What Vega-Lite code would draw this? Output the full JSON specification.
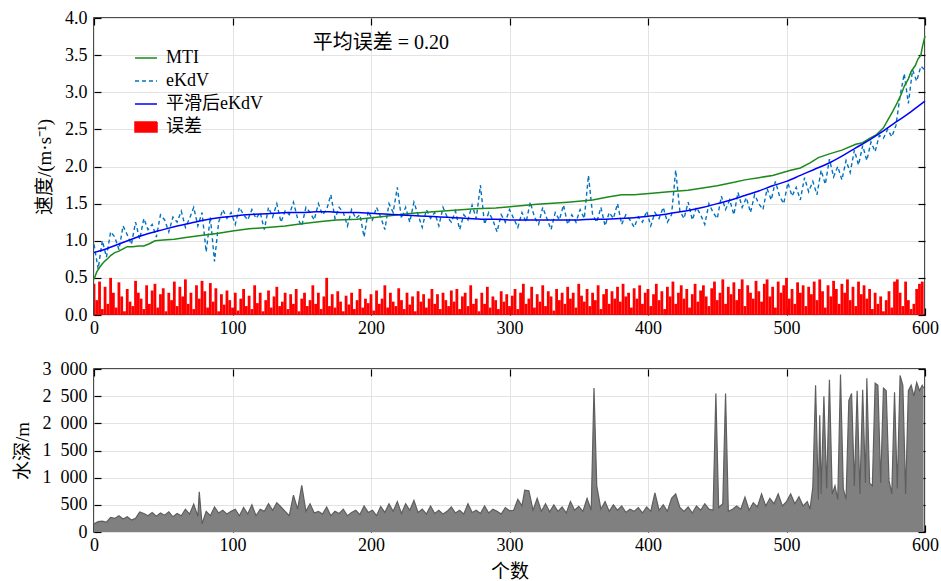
{
  "$schema": "https://vega.github.io/schema/vega-lite/v6.json",
  "background": "white",
  "padding": {"left": 12, "top": 8, "right": 2, "bottom": 2},
  "spacing": 54,
  "bounds": "flush",
  "config": {
    "font": "Liberation Serif, Noto Sans CJK SC",
    "view": {"stroke": "#111111", "strokeWidth": 1.5},
    "style": {
      "guide-label": {"font": "Liberation Serif, Noto Sans CJK SC", "fontSize": 18, "fill": "#000000"},
      "guide-title": {"font": "Liberation Serif, Noto Sans CJK SC", "fontSize": 19, "fill": "#000000"}
    },
    "axis": {
      "labelFont": "Liberation Serif, Noto Sans CJK SC",
      "titleFont": "Liberation Serif, Noto Sans CJK SC",
      "labelFontSize": 18,
      "titleFontSize": 19,
      "titleFontWeight": "normal",
      "labelColor": "#000000",
      "titleColor": "#000000",
      "tickColor": "#000000",
      "tickWidth": 1.2,
      "gridColor": "#e3e3e3",
      "gridWidth": 1,
      "domain": false,
      "labelFlush": false,
      "labelOverlap": false
    },
    "legend": {
      "labelFont": "Liberation Serif, Noto Sans CJK SC",
      "labelFontSize": 18,
      "labelColor": "#000000"
    },
    "text": {"font": "Liberation Serif, Noto Sans CJK SC"}
  },
  "datasets": {
    "mti": [
      {"x":0,"v":0.48},{"x":2,"v":0.58},{"x":4,"v":0.64},{"x":6,"v":0.69},{"x":8,"v":0.73},{"x":10,"v":0.76},{"x":12,"v":0.8},{"x":15,"v":0.84},{"x":18,"v":0.86},{"x":21,"v":0.89},{"x":24,"v":0.92},{"x":28,"v":0.92},{"x":32,"v":0.93},{"x":36,"v":0.93},{"x":40,"v":0.96},{"x":44,"v":1.0},{"x":50,"v":1.01},{"x":58,"v":1.02},{"x":65,"v":1.04},{"x":77,"v":1.07},{"x":90,"v":1.1},{"x":100,"v":1.13},{"x":112,"v":1.16},{"x":125,"v":1.18},{"x":138,"v":1.2},{"x":150,"v":1.23},{"x":164,"v":1.26},{"x":175,"v":1.28},{"x":190,"v":1.29},{"x":201,"v":1.31},{"x":215,"v":1.34},{"x":230,"v":1.37},{"x":245,"v":1.39},{"x":260,"v":1.41},{"x":275,"v":1.43},{"x":290,"v":1.44},{"x":302,"v":1.46},{"x":320,"v":1.49},{"x":342,"v":1.52},{"x":360,"v":1.55},{"x":371,"v":1.59},{"x":381,"v":1.62},{"x":390,"v":1.62},{"x":403,"v":1.64},{"x":415,"v":1.66},{"x":429,"v":1.68},{"x":436,"v":1.7},{"x":450,"v":1.74},{"x":463,"v":1.79},{"x":470,"v":1.82},{"x":480,"v":1.85},{"x":490,"v":1.88},{"x":503,"v":1.95},{"x":510,"v":1.98},{"x":517,"v":2.05},{"x":523,"v":2.12},{"x":531,"v":2.17},{"x":540,"v":2.22},{"x":550,"v":2.3},{"x":555,"v":2.32},{"x":560,"v":2.38},{"x":565,"v":2.43},{"x":570,"v":2.52},{"x":573,"v":2.62},{"x":576,"v":2.72},{"x":580,"v":2.86},{"x":583,"v":2.98},{"x":585,"v":3.08},{"x":588,"v":3.18},{"x":590,"v":3.28},{"x":593,"v":3.36},{"x":595,"v":3.45},{"x":597,"v":3.5},{"x":598,"v":3.6},{"x":600,"v":3.76}
    ],
    "smooth": [
      {"x":0,"v":0.84},{"x":10,"v":0.9},{"x":20,"v":0.97},{"x":30,"v":1.04},{"x":40,"v":1.1},{"x":50,"v":1.15},{"x":60,"v":1.2},{"x":70,"v":1.24},{"x":80,"v":1.28},{"x":90,"v":1.31},{"x":100,"v":1.33},{"x":110,"v":1.35},{"x":120,"v":1.36},{"x":130,"v":1.37},{"x":140,"v":1.38},{"x":150,"v":1.38},{"x":160,"v":1.39},{"x":170,"v":1.39},{"x":180,"v":1.38},{"x":190,"v":1.38},{"x":200,"v":1.37},{"x":210,"v":1.36},{"x":220,"v":1.35},{"x":230,"v":1.34},{"x":240,"v":1.33},{"x":250,"v":1.32},{"x":260,"v":1.31},{"x":270,"v":1.3},{"x":280,"v":1.29},{"x":290,"v":1.29},{"x":300,"v":1.28},{"x":310,"v":1.28},{"x":320,"v":1.28},{"x":330,"v":1.28},{"x":340,"v":1.28},{"x":350,"v":1.28},{"x":360,"v":1.29},{"x":370,"v":1.29},{"x":380,"v":1.3},{"x":390,"v":1.31},{"x":400,"v":1.33},{"x":410,"v":1.35},{"x":420,"v":1.38},{"x":430,"v":1.41},{"x":440,"v":1.45},{"x":450,"v":1.5},{"x":460,"v":1.55},{"x":470,"v":1.61},{"x":480,"v":1.67},{"x":490,"v":1.74},{"x":500,"v":1.8},{"x":510,"v":1.88},{"x":520,"v":1.96},{"x":530,"v":2.04},{"x":540,"v":2.14},{"x":550,"v":2.25},{"x":560,"v":2.36},{"x":570,"v":2.48},{"x":580,"v":2.61},{"x":590,"v":2.74},{"x":600,"v":2.88}
    ],
    "ekdv": [
      {"x":0,"v":0.95},{"x":3,"v":0.62},{"x":6,"v":1.0},{"x":9,"v":0.78},{"x":12,"v":1.12},{"x":15,"v":1.05},{"x":18,"v":0.88},{"x":21,"v":1.2},{"x":24,"v":1.08},{"x":27,"v":0.95},
      {"x":30,"v":1.25},{"x":33,"v":1.02},{"x":36,"v":1.3},{"x":39,"v":1.15},{"x":42,"v":1.22},{"x":45,"v":1.05},{"x":48,"v":1.35},{"x":51,"v":1.28},{"x":54,"v":1.12},{"x":57,"v":1.32},
      {"x":60,"v":1.25},{"x":63,"v":1.4},{"x":66,"v":1.18},{"x":69,"v":1.3},{"x":72,"v":1.45},{"x":75,"v":1.2},{"x":78,"v":1.38},{"x":81,"v":0.85},{"x":84,"v":1.32},{"x":87,"v":0.72},
      {"x":90,"v":1.25},{"x":93,"v":1.42},{"x":96,"v":1.3},{"x":99,"v":1.38},{"x":102,"v":1.22},{"x":105,"v":1.45},{"x":108,"v":1.35},{"x":111,"v":1.28},{"x":114,"v":1.42},{"x":117,"v":1.3},
      {"x":120,"v":1.38},{"x":123,"v":1.15},{"x":126,"v":1.45},{"x":129,"v":1.32},{"x":132,"v":1.5},{"x":135,"v":1.25},{"x":138,"v":1.4},{"x":141,"v":1.35},{"x":144,"v":1.52},{"x":147,"v":1.3},
      {"x":150,"v":1.2},{"x":153,"v":1.45},{"x":156,"v":1.38},{"x":159,"v":1.28},{"x":162,"v":1.5},{"x":165,"v":1.35},{"x":168,"v":1.42},{"x":171,"v":1.62},{"x":174,"v":1.3},{"x":177,"v":1.45},
      {"x":180,"v":1.38},{"x":183,"v":1.2},{"x":186,"v":1.42},{"x":189,"v":1.3},{"x":192,"v":1.35},{"x":195,"v":1.05},{"x":198,"v":1.4},{"x":201,"v":1.28},{"x":204,"v":1.45},{"x":207,"v":1.32},
      {"x":210,"v":1.15},{"x":213,"v":1.5},{"x":216,"v":1.38},{"x":219,"v":1.72},{"x":222,"v":1.3},{"x":225,"v":1.45},{"x":228,"v":1.25},{"x":231,"v":1.52},{"x":234,"v":1.35},{"x":237,"v":1.18},
      {"x":240,"v":1.42},{"x":243,"v":1.3},{"x":246,"v":1.38},{"x":249,"v":1.2},{"x":252,"v":1.45},{"x":255,"v":1.32},{"x":258,"v":1.25},{"x":261,"v":1.4},{"x":264,"v":1.15},{"x":267,"v":1.35},
      {"x":270,"v":1.28},{"x":273,"v":1.48},{"x":276,"v":1.3},{"x":279,"v":1.75},{"x":282,"v":1.22},{"x":285,"v":1.38},{"x":288,"v":1.28},{"x":291,"v":1.12},{"x":294,"v":1.35},{"x":297,"v":1.25},
      {"x":300,"v":1.42},{"x":303,"v":1.3},{"x":306,"v":1.18},{"x":309,"v":1.38},{"x":312,"v":1.25},{"x":315,"v":1.52},{"x":318,"v":1.32},{"x":321,"v":1.22},{"x":324,"v":1.45},{"x":327,"v":1.3},
      {"x":330,"v":1.15},{"x":333,"v":1.38},{"x":336,"v":1.28},{"x":339,"v":1.48},{"x":342,"v":1.22},{"x":345,"v":1.35},{"x":348,"v":1.25},{"x":351,"v":1.42},{"x":354,"v":1.3},{"x":357,"v":1.88},
      {"x":360,"v":1.35},{"x":363,"v":1.25},{"x":366,"v":1.45},{"x":369,"v":1.2},{"x":372,"v":1.38},{"x":375,"v":1.3},{"x":378,"v":1.5},{"x":381,"v":1.22},{"x":384,"v":1.35},{"x":387,"v":1.28},
      {"x":390,"v":1.18},{"x":393,"v":1.32},{"x":396,"v":1.25},{"x":399,"v":1.4},{"x":402,"v":1.2},{"x":405,"v":1.38},{"x":408,"v":1.3},{"x":411,"v":1.45},{"x":414,"v":1.25},{"x":417,"v":1.35},
      {"x":420,"v":1.95},{"x":423,"v":1.4},{"x":426,"v":1.3},{"x":429,"v":1.52},{"x":432,"v":1.28},{"x":435,"v":1.45},{"x":438,"v":1.35},{"x":441,"v":1.22},{"x":444,"v":1.5},{"x":447,"v":1.38},
      {"x":450,"v":1.3},{"x":453,"v":1.6},{"x":456,"v":1.42},{"x":459,"v":1.55},{"x":462,"v":1.35},{"x":465,"v":1.65},{"x":468,"v":1.45},{"x":471,"v":1.58},{"x":474,"v":1.38},{"x":477,"v":1.62},
      {"x":480,"v":1.5},{"x":483,"v":1.42},{"x":486,"v":1.7},{"x":489,"v":1.55},{"x":492,"v":1.8},{"x":495,"v":1.6},{"x":498,"v":1.5},{"x":501,"v":1.78},{"x":504,"v":1.6},{"x":507,"v":1.72},
      {"x":510,"v":1.55},{"x":513,"v":1.85},{"x":516,"v":1.66},{"x":519,"v":1.8},{"x":522,"v":1.62},{"x":525,"v":1.95},{"x":528,"v":1.76},{"x":531,"v":2.1},{"x":534,"v":1.86},{"x":537,"v":2.0},
      {"x":540,"v":1.82},{"x":543,"v":2.08},{"x":546,"v":1.92},{"x":549,"v":2.22},{"x":552,"v":2.02},{"x":555,"v":2.28},{"x":558,"v":2.08},{"x":561,"v":2.33},{"x":564,"v":2.2},{"x":567,"v":2.42},
      {"x":570,"v":2.38},{"x":573,"v":2.5},{"x":576,"v":2.4},{"x":579,"v":2.55},{"x":582,"v":2.95},{"x":585,"v":3.25},{"x":588,"v":2.85},{"x":591,"v":3.3},{"x":594,"v":3.15},{"x":597,"v":3.35},{"x":600,"v":3.3}
    ],
    "err": [
      {"x":0,"v":0.42},{"x":2,"v":0.2},{"x":4,"v":0.45},{"x":6,"v":0.08},{"x":8,"v":0.38},{"x":10,"v":0.15},{"x":12,"v":0.5},{"x":14,"v":0.3},{"x":16,"v":0.1},{"x":18,"v":0.44},
      {"x":20,"v":0.25},{"x":22,"v":0.05},{"x":24,"v":0.35},{"x":26,"v":0.18},{"x":28,"v":0.12},{"x":30,"v":0.46},{"x":32,"v":0.3},{"x":34,"v":0.22},{"x":36,"v":0.08},{"x":38,"v":0.4},
      {"x":40,"v":0.15},{"x":42,"v":0.33},{"x":44,"v":0.42},{"x":46,"v":0.1},{"x":48,"v":0.28},{"x":50,"v":0.36},{"x":52,"v":0.05},{"x":54,"v":0.3},{"x":56,"v":0.2},{"x":58,"v":0.45},
      {"x":60,"v":0.12},{"x":62,"v":0.38},{"x":64,"v":0.25},{"x":66,"v":0.48},{"x":68,"v":0.15},{"x":70,"v":0.3},{"x":72,"v":0.08},{"x":74,"v":0.4},{"x":76,"v":0.22},{"x":78,"v":0.46},
      {"x":80,"v":0.32},{"x":82,"v":0.1},{"x":84,"v":0.43},{"x":86,"v":0.18},{"x":88,"v":0.36},{"x":90,"v":0.05},{"x":92,"v":0.28},{"x":94,"v":0.14},{"x":96,"v":0.33},{"x":98,"v":0.2},
      {"x":100,"v":0.1},{"x":102,"v":0.3},{"x":104,"v":0.06},{"x":106,"v":0.22},{"x":108,"v":0.35},{"x":110,"v":0.12},{"x":112,"v":0.26},{"x":114,"v":0.08},{"x":116,"v":0.4},{"x":118,"v":0.16},
      {"x":120,"v":0.3},{"x":122,"v":0.05},{"x":124,"v":0.2},{"x":126,"v":0.33},{"x":128,"v":0.1},{"x":130,"v":0.25},{"x":132,"v":0.38},{"x":134,"v":0.12},{"x":136,"v":0.18},{"x":138,"v":0.3},
      {"x":140,"v":0.08},{"x":142,"v":0.28},{"x":144,"v":0.15},{"x":146,"v":0.35},{"x":148,"v":0.05},{"x":150,"v":0.22},{"x":152,"v":0.3},{"x":154,"v":0.12},{"x":156,"v":0.2},{"x":158,"v":0.4},
      {"x":160,"v":0.15},{"x":162,"v":0.3},{"x":164,"v":0.08},{"x":166,"v":0.25},{"x":168,"v":0.5},{"x":170,"v":0.12},{"x":172,"v":0.28},{"x":174,"v":0.1},{"x":176,"v":0.32},{"x":178,"v":0.18},
      {"x":180,"v":0.05},{"x":182,"v":0.26},{"x":184,"v":0.14},{"x":186,"v":0.3},{"x":188,"v":0.08},{"x":190,"v":0.2},{"x":192,"v":0.35},{"x":194,"v":0.1},{"x":196,"v":0.22},{"x":198,"v":0.16},
      {"x":200,"v":0.28},{"x":202,"v":0.06},{"x":204,"v":0.33},{"x":206,"v":0.15},{"x":208,"v":0.22},{"x":210,"v":0.4},{"x":212,"v":0.1},{"x":214,"v":0.3},{"x":216,"v":0.18},{"x":218,"v":0.12},
      {"x":220,"v":0.36},{"x":222,"v":0.2},{"x":224,"v":0.08},{"x":226,"v":0.3},{"x":228,"v":0.14},{"x":230,"v":0.25},{"x":232,"v":0.05},{"x":234,"v":0.32},{"x":236,"v":0.18},{"x":238,"v":0.28},
      {"x":240,"v":0.1},{"x":242,"v":0.22},{"x":244,"v":0.35},{"x":246,"v":0.15},{"x":248,"v":0.28},{"x":250,"v":0.08},{"x":252,"v":0.3},{"x":254,"v":0.2},{"x":256,"v":0.12},{"x":258,"v":0.33},
      {"x":260,"v":0.18},{"x":262,"v":0.35},{"x":264,"v":0.08},{"x":266,"v":0.25},{"x":268,"v":0.3},{"x":270,"v":0.12},{"x":272,"v":0.4},{"x":274,"v":0.15},{"x":276,"v":0.22},{"x":278,"v":0.05},
      {"x":280,"v":0.3},{"x":282,"v":0.15},{"x":284,"v":0.38},{"x":286,"v":0.1},{"x":288,"v":0.25},{"x":290,"v":0.2},{"x":292,"v":0.08},{"x":294,"v":0.32},{"x":296,"v":0.18},{"x":298,"v":0.28},
      {"x":300,"v":0.12},{"x":302,"v":0.26},{"x":304,"v":0.35},{"x":306,"v":0.08},{"x":308,"v":0.3},{"x":310,"v":0.42},{"x":312,"v":0.15},{"x":314,"v":0.22},{"x":316,"v":0.38},{"x":318,"v":0.1},
      {"x":320,"v":0.28},{"x":322,"v":0.18},{"x":324,"v":0.4},{"x":326,"v":0.12},{"x":328,"v":0.32},{"x":330,"v":0.25},{"x":332,"v":0.06},{"x":334,"v":0.35},{"x":336,"v":0.2},{"x":338,"v":0.3},
      {"x":340,"v":0.15},{"x":342,"v":0.38},{"x":344,"v":0.22},{"x":346,"v":0.3},{"x":348,"v":0.1},{"x":350,"v":0.42},{"x":352,"v":0.26},{"x":354,"v":0.18},{"x":356,"v":0.35},{"x":358,"v":0.12},
      {"x":360,"v":0.3},{"x":362,"v":0.2},{"x":364,"v":0.4},{"x":366,"v":0.08},{"x":368,"v":0.28},{"x":370,"v":0.35},{"x":372,"v":0.15},{"x":374,"v":0.32},{"x":376,"v":0.22},{"x":378,"v":0.38},
      {"x":380,"v":0.18},{"x":382,"v":0.42},{"x":384,"v":0.25},{"x":386,"v":0.3},{"x":388,"v":0.1},{"x":390,"v":0.36},{"x":392,"v":0.22},{"x":394,"v":0.4},{"x":396,"v":0.15},{"x":398,"v":0.3},
      {"x":400,"v":0.35},{"x":402,"v":0.12},{"x":404,"v":0.28},{"x":406,"v":0.42},{"x":408,"v":0.2},{"x":410,"v":0.32},{"x":412,"v":0.08},{"x":414,"v":0.38},{"x":416,"v":0.25},{"x":418,"v":0.45},
      {"x":420,"v":0.15},{"x":422,"v":0.3},{"x":424,"v":0.4},{"x":426,"v":0.22},{"x":428,"v":0.35},{"x":430,"v":0.1},{"x":432,"v":0.28},{"x":434,"v":0.42},{"x":436,"v":0.18},{"x":438,"v":0.33},
      {"x":440,"v":0.4},{"x":442,"v":0.25},{"x":444,"v":0.12},{"x":446,"v":0.36},{"x":448,"v":0.45},{"x":450,"v":0.2},{"x":452,"v":0.3},{"x":454,"v":0.48},{"x":456,"v":0.15},{"x":458,"v":0.38},
      {"x":460,"v":0.28},{"x":462,"v":0.44},{"x":464,"v":0.2},{"x":466,"v":0.35},{"x":468,"v":0.48},{"x":470,"v":0.12},{"x":472,"v":0.4},{"x":474,"v":0.3},{"x":476,"v":0.22},{"x":478,"v":0.46},
      {"x":480,"v":0.32},{"x":482,"v":0.18},{"x":484,"v":0.42},{"x":486,"v":0.48},{"x":488,"v":0.25},{"x":490,"v":0.38},{"x":492,"v":0.1},{"x":494,"v":0.45},{"x":496,"v":0.3},{"x":498,"v":0.4},
      {"x":500,"v":0.5},{"x":502,"v":0.22},{"x":504,"v":0.35},{"x":506,"v":0.15},{"x":508,"v":0.44},{"x":510,"v":0.3},{"x":512,"v":0.4},{"x":514,"v":0.12},{"x":516,"v":0.38},{"x":518,"v":0.28},
      {"x":520,"v":0.45},{"x":522,"v":0.2},{"x":524,"v":0.48},{"x":526,"v":0.32},{"x":528,"v":0.1},{"x":530,"v":0.4},{"x":532,"v":0.25},{"x":534,"v":0.46},{"x":536,"v":0.35},{"x":538,"v":0.15},
      {"x":540,"v":0.42},{"x":542,"v":0.3},{"x":544,"v":0.48},{"x":546,"v":0.2},{"x":548,"v":0.38},{"x":550,"v":0.12},{"x":552,"v":0.45},{"x":554,"v":0.28},{"x":556,"v":0.4},{"x":558,"v":0.22},
      {"x":560,"v":0.35},{"x":562,"v":0.08},{"x":564,"v":0.3},{"x":566,"v":0.15},{"x":568,"v":0.25},{"x":570,"v":0.05},{"x":572,"v":0.2},{"x":574,"v":0.32},{"x":576,"v":0.1},{"x":578,"v":0.45},
      {"x":580,"v":0.48},{"x":582,"v":0.3},{"x":584,"v":0.12},{"x":586,"v":0.45},{"x":588,"v":0.2},{"x":590,"v":0.08},{"x":592,"v":0.15},{"x":594,"v":0.35},{"x":596,"v":0.42},{"x":598,"v":0.45}
    ],
    "depth": [
      {"x":0,"v":150},{"x":3,"v":190},{"x":6,"v":200},{"x":9,"v":180},{"x":12,"v":270},{"x":15,"v":250},{"x":18,"v":300},{"x":21,"v":240},{"x":24,"v":280},{"x":27,"v":220},
      {"x":30,"v":250},{"x":33,"v":370},{"x":36,"v":340},{"x":39,"v":300},{"x":42,"v":360},{"x":45,"v":290},{"x":48,"v":350},{"x":51,"v":310},{"x":54,"v":370},{"x":57,"v":280},
      {"x":60,"v":340},{"x":63,"v":300},{"x":66,"v":420},{"x":69,"v":330},{"x":72,"v":510},{"x":75,"v":290},{"x":76,"v":740},{"x":78,"v":150},{"x":81,"v":380},{"x":84,"v":300},
      {"x":87,"v":460},{"x":90,"v":350},{"x":93,"v":400},{"x":96,"v":330},{"x":99,"v":380},{"x":102,"v":420},{"x":105,"v":300},{"x":108,"v":450},{"x":111,"v":330},{"x":114,"v":500},
      {"x":117,"v":300},{"x":120,"v":420},{"x":123,"v":380},{"x":126,"v":520},{"x":129,"v":400},{"x":132,"v":540},{"x":135,"v":460},{"x":138,"v":380},{"x":141,"v":300},{"x":144,"v":680},
      {"x":147,"v":420},{"x":150,"v":860},{"x":153,"v":380},{"x":156,"v":520},{"x":159,"v":350},{"x":162,"v":380},{"x":165,"v":330},{"x":168,"v":460},{"x":171,"v":300},{"x":174,"v":380},
      {"x":177,"v":340},{"x":180,"v":420},{"x":183,"v":300},{"x":186,"v":360},{"x":189,"v":400},{"x":192,"v":320},{"x":195,"v":480},{"x":198,"v":360},{"x":201,"v":400},{"x":204,"v":300},
      {"x":207,"v":470},{"x":210,"v":360},{"x":213,"v":520},{"x":216,"v":380},{"x":219,"v":560},{"x":222,"v":340},{"x":225,"v":520},{"x":228,"v":400},{"x":231,"v":580},{"x":234,"v":360},
      {"x":237,"v":420},{"x":240,"v":330},{"x":243,"v":480},{"x":246,"v":340},{"x":249,"v":400},{"x":252,"v":330},{"x":255,"v":380},{"x":258,"v":460},{"x":261,"v":350},{"x":264,"v":400},
      {"x":267,"v":330},{"x":270,"v":520},{"x":273,"v":360},{"x":276,"v":400},{"x":279,"v":340},{"x":282,"v":480},{"x":285,"v":350},{"x":288,"v":420},{"x":291,"v":380},{"x":294,"v":330},
      {"x":297,"v":450},{"x":300,"v":390},{"x":303,"v":400},{"x":306,"v":600},{"x":309,"v":480},{"x":311,"v":770},{"x":314,"v":760},{"x":317,"v":400},{"x":320,"v":620},{"x":323,"v":380},
      {"x":326,"v":520},{"x":329,"v":370},{"x":332,"v":500},{"x":335,"v":380},{"x":338,"v":460},{"x":341,"v":350},{"x":344,"v":560},{"x":347,"v":400},{"x":350,"v":470},{"x":353,"v":380},
      {"x":356,"v":620},{"x":359,"v":400},{"x":361,"v":2650},{"x":363,"v":850},{"x":366,"v":420},{"x":369,"v":560},{"x":372,"v":380},{"x":375,"v":500},{"x":378,"v":400},{"x":381,"v":480},
      {"x":384,"v":360},{"x":387,"v":420},{"x":390,"v":380},{"x":393,"v":450},{"x":396,"v":350},{"x":399,"v":460},{"x":402,"v":380},{"x":405,"v":720},{"x":408,"v":400},{"x":411,"v":500},
      {"x":414,"v":380},{"x":417,"v":620},{"x":420,"v":700},{"x":423,"v":450},{"x":426,"v":380},{"x":429,"v":460},{"x":432,"v":350},{"x":435,"v":480},{"x":438,"v":400},{"x":441,"v":520},
      {"x":444,"v":420},{"x":447,"v":400},{"x":449,"v":2550},{"x":451,"v":450},{"x":454,"v":520},{"x":456,"v":2550},{"x":458,"v":380},{"x":461,"v":420},{"x":464,"v":480},{"x":467,"v":420},
      {"x":470,"v":640},{"x":473,"v":400},{"x":476,"v":540},{"x":479,"v":460},{"x":482,"v":700},{"x":485,"v":480},{"x":488,"v":620},{"x":491,"v":520},{"x":494,"v":700},{"x":497,"v":480},
      {"x":500,"v":560},{"x":503,"v":700},{"x":506,"v":520},{"x":509,"v":650},{"x":512,"v":480},{"x":515,"v":560},{"x":517,"v":420},{"x":519,"v":820},{"x":521,"v":2700},{"x":523,"v":600},
      {"x":524,"v":2150},{"x":525,"v":700},{"x":527,"v":2500},{"x":529,"v":800},{"x":531,"v":2800},{"x":533,"v":700},{"x":535,"v":850},{"x":537,"v":600},{"x":539,"v":2900},{"x":541,"v":800},
      {"x":543,"v":600},{"x":545,"v":2420},{"x":547,"v":2550},{"x":549,"v":850},{"x":551,"v":2600},{"x":553,"v":700},{"x":555,"v":2620},{"x":557,"v":900},{"x":558,"v":2830},{"x":560,"v":900},
      {"x":562,"v":850},{"x":564,"v":2740},{"x":566,"v":2700},{"x":568,"v":900},{"x":570,"v":2650},{"x":572,"v":2600},{"x":574,"v":950},{"x":576,"v":700},{"x":578,"v":2570},{"x":580,"v":800},
      {"x":582,"v":2880},{"x":584,"v":2700},{"x":586,"v":700},{"x":588,"v":2600},{"x":590,"v":2700},{"x":592,"v":2500},{"x":594,"v":2750},{"x":596,"v":2600},{"x":598,"v":2700},{"x":599,"v":2650}
    ]
  },
  "vconcat": [
    {
      "width": 831,
      "height": 297,
      "layer": [
        {
          "data": {"name": "err"},
          "mark": {"type": "bar", "size": 2.8, "clip": true},
          "encoding": {
            "x": {"field": "x", "type": "quantitative", "scale": {"domain": [0, 600], "nice": false, "padding": 0},
                  "axis": {"orient": "bottom", "values": [0,100,200,300,400,500,600], "tickSize": -7, "labelPadding": 11, "grid": true, "title": null, "labelFont": "Liberation Serif"}},
            "y": {"field": "v", "type": "quantitative", "scale": {"domain": [0, 4], "nice": false, "padding": 0},
                  "axis": {"orient": "left", "values": [0,0.5,1,1.5,2,2.5,3,3.5,4], "format": ".1f", "tickSize": -7, "labelPadding": 14, "grid": true, "title": "速度/(m·s⁻¹)", "titlePadding": 10, "labelFont": "Liberation Serif", "titleFont": "Liberation Serif, Noto Sans CJK SC"}},
            "color": {"datum": "误差",
              "scale": {"domain": ["MTI", "eKdV", "平滑后eKdV", "误差"], "range": ["#1b8a1b", "#0072BD", "#0000ff", "#ff0000"]},
              "legend": {
                "orient": "none", "legendX": 40, "legendY": 28, "title": null,
                "symbolSize": 484, "labelOffset": 8, "rowPadding": 2, "padding": 0,
                "labelFont": "Liberation Serif, Noto Sans CJK SC", "labelFontSize": 18,
                "encode": {"symbols": {"update": {
                  "shape": {"signal": "datum.value === '误差' ? 'M-1,-0.45H1V0.45H-1Z' : 'M-1,0H1'"},
                  "fill": {"signal": "datum.value === '误差' ? '#ff0000' : 'transparent'"},
                  "stroke": {"signal": "datum.value === 'MTI' ? '#1b8a1b' : datum.value === 'eKdV' ? '#0072BD' : datum.value === '误差' ? '#ff0000' : '#0000ff'"},
                  "strokeWidth": {"value": 1.5},
                  "strokeDash": {"signal": "datum.value === 'eKdV' ? [4, 3] : [1, 0]"},
                  "opacity": {"value": 1}
                }}}
              }}
          }
        },
        {
          "data": {"name": "ekdv"},
          "mark": {"type": "line", "strokeWidth": 1.4, "strokeDash": [4, 3]},
          "encoding": {
            "x": {"field": "x", "type": "quantitative", "axis": null},
            "y": {"field": "v", "type": "quantitative", "axis": null},
            "color": {"datum": "eKdV"}
          }
        },
        {
          "data": {"name": "mti"},
          "mark": {"type": "line", "strokeWidth": 1.5},
          "encoding": {
            "x": {"field": "x", "type": "quantitative",
                  "axis": {"orient": "top", "values": [0,100,200,300,400,500,600], "tickSize": -7, "labels": false, "grid": false, "title": null}},
            "y": {"field": "v", "type": "quantitative",
                  "axis": {"orient": "right", "values": [0,0.5,1,1.5,2,2.5,3,3.5,4], "tickSize": -7, "labels": false, "grid": false, "title": null}},
            "color": {"datum": "MTI"}
          }
        },
        {
          "data": {"name": "smooth"},
          "mark": {"type": "line", "strokeWidth": 1.5, "interpolate": "monotone"},
          "encoding": {
            "x": {"field": "x", "type": "quantitative", "axis": null},
            "y": {"field": "v", "type": "quantitative", "axis": null},
            "color": {"datum": "平滑后eKdV"}
          }
        },
        {
          "data": {"values": [{}]},
          "mark": {"type": "text", "align": "left", "baseline": "middle", "fontSize": 20, "color": "#000000", "font": "Liberation Serif, Noto Sans CJK SC"},
          "encoding": {
            "x": {"datum": 158, "type": "quantitative", "axis": null},
            "y": {"datum": 3.66, "type": "quantitative", "axis": null},
            "text": {"value": "平均误差 = 0.20"}
          }
        }
      ],
      "resolve": {"axis": {"x": "independent", "y": "independent"}}
    },
    {
      "width": 831,
      "height": 163,
      "layer": [
        {
          "data": {"name": "depth"},
          "mark": {"type": "area", "color": "#808080", "opacity": 1},
          "encoding": {
            "x": {"field": "x", "type": "quantitative", "scale": {"domain": [0, 600], "nice": false, "padding": 0},
                  "axis": {"orient": "bottom", "values": [0,100,200,300,400,500,600], "tickSize": -7, "labelPadding": 11, "grid": true, "title": "个数", "titlePadding": 8, "labelFont": "Liberation Serif", "titleFont": "Liberation Serif, Noto Sans CJK SC"}},
            "y": {"field": "v", "type": "quantitative", "scale": {"domain": [0, 3000], "nice": false, "padding": 0},
                  "axis": {"orient": "left", "values": [0,500,1000,1500,2000,2500,3000], "labelExpr": "replace(format(datum.value, ','), ',', '\u2007')", "tickSize": -7, "labelPadding": 14, "grid": true, "title": "水深/m", "titlePadding": 10, "labelFont": "Liberation Serif", "titleFont": "Liberation Serif, Noto Sans CJK SC"}}
          }
        },
        {
          "data": {"name": "depth"},
          "mark": {"type": "line", "color": "#5e5e5e", "strokeWidth": 1.2},
          "encoding": {
            "x": {"field": "x", "type": "quantitative",
                  "axis": {"orient": "top", "values": [0,100,200,300,400,500,600], "tickSize": -7, "labels": false, "grid": false, "title": null}},
            "y": {"field": "v", "type": "quantitative",
                  "axis": {"orient": "right", "values": [0,500,1000,1500,2000,2500,3000], "tickSize": -7, "labels": false, "grid": false, "title": null}}
          }
        }
      ],
      "resolve": {"axis": {"x": "independent", "y": "independent"}}
    }
  ]
}
